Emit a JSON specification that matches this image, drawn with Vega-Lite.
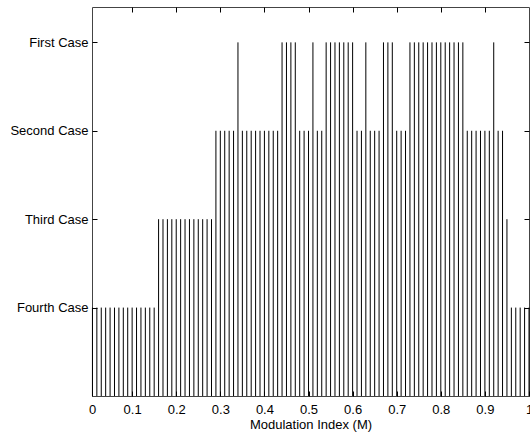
{
  "$schema": "https://vega.github.io/schema/vega-lite/v6.json",
  "width": 437,
  "height": 389,
  "autosize": "none",
  "padding": {"left": 92, "top": 7, "right": 1, "bottom": 40},
  "config": {
    "view": {"stroke": "#444", "strokeWidth": 1},
    "font": "Liberation Sans",
    "axis": {"grid": false, "domain": false, "tickColor": "#000", "labelColor": "#000", "titleColor": "#000", "labelFont": "Liberation Sans", "titleFont": "Liberation Sans", "labelFontSize": 13, "titleFontSize": 13, "titleFontWeight": "normal"}
  },
  "data": {"values": [
    {"m": 0.01, "level": 1}, {"m": 0.02, "level": 1}, {"m": 0.03, "level": 1}, {"m": 0.04, "level": 1}, {"m": 0.05, "level": 1},
    {"m": 0.06, "level": 1}, {"m": 0.07, "level": 1}, {"m": 0.08, "level": 1}, {"m": 0.09, "level": 1}, {"m": 0.10, "level": 1},
    {"m": 0.11, "level": 1}, {"m": 0.12, "level": 1}, {"m": 0.13, "level": 1}, {"m": 0.14, "level": 1}, {"m": 0.15, "level": 1},
    {"m": 0.16, "level": 2}, {"m": 0.17, "level": 2}, {"m": 0.18, "level": 2}, {"m": 0.19, "level": 2}, {"m": 0.20, "level": 2},
    {"m": 0.21, "level": 2}, {"m": 0.22, "level": 2}, {"m": 0.23, "level": 2}, {"m": 0.24, "level": 2}, {"m": 0.25, "level": 2},
    {"m": 0.26, "level": 2}, {"m": 0.27, "level": 2}, {"m": 0.28, "level": 2}, {"m": 0.29, "level": 3}, {"m": 0.30, "level": 3},
    {"m": 0.31, "level": 3}, {"m": 0.32, "level": 3}, {"m": 0.33, "level": 3}, {"m": 0.34, "level": 4}, {"m": 0.35, "level": 3},
    {"m": 0.36, "level": 3}, {"m": 0.37, "level": 3}, {"m": 0.38, "level": 3}, {"m": 0.39, "level": 3}, {"m": 0.40, "level": 3},
    {"m": 0.41, "level": 3}, {"m": 0.42, "level": 3}, {"m": 0.43, "level": 3}, {"m": 0.44, "level": 4}, {"m": 0.45, "level": 4},
    {"m": 0.46, "level": 4}, {"m": 0.47, "level": 4}, {"m": 0.48, "level": 3}, {"m": 0.49, "level": 3}, {"m": 0.50, "level": 3},
    {"m": 0.51, "level": 4}, {"m": 0.52, "level": 3}, {"m": 0.53, "level": 3}, {"m": 0.54, "level": 4}, {"m": 0.55, "level": 4},
    {"m": 0.56, "level": 4}, {"m": 0.57, "level": 4}, {"m": 0.58, "level": 4}, {"m": 0.59, "level": 4}, {"m": 0.60, "level": 4},
    {"m": 0.61, "level": 3}, {"m": 0.62, "level": 3}, {"m": 0.63, "level": 4}, {"m": 0.64, "level": 3}, {"m": 0.65, "level": 3},
    {"m": 0.66, "level": 3}, {"m": 0.67, "level": 4}, {"m": 0.68, "level": 4}, {"m": 0.69, "level": 4}, {"m": 0.70, "level": 3},
    {"m": 0.71, "level": 3}, {"m": 0.72, "level": 3}, {"m": 0.73, "level": 4}, {"m": 0.74, "level": 4}, {"m": 0.75, "level": 4},
    {"m": 0.76, "level": 4}, {"m": 0.77, "level": 4}, {"m": 0.78, "level": 4}, {"m": 0.79, "level": 4}, {"m": 0.80, "level": 4},
    {"m": 0.81, "level": 4}, {"m": 0.82, "level": 4}, {"m": 0.83, "level": 4}, {"m": 0.84, "level": 4}, {"m": 0.85, "level": 4},
    {"m": 0.86, "level": 3}, {"m": 0.87, "level": 3}, {"m": 0.88, "level": 3}, {"m": 0.89, "level": 3}, {"m": 0.90, "level": 3},
    {"m": 0.91, "level": 3}, {"m": 0.92, "level": 4}, {"m": 0.93, "level": 3}, {"m": 0.94, "level": 3}, {"m": 0.95, "level": 2},
    {"m": 0.96, "level": 1}, {"m": 0.97, "level": 1}, {"m": 0.98, "level": 1}, {"m": 0.99, "level": 1}, {"m": 1.00, "level": 1}
  ]},
  "layer": [
    {
      "mark": {"type": "rule", "color": "#000", "strokeWidth": 1},
      "encoding": {
        "x": {"field": "m", "type": "quantitative",
          "scale": {"domain": [0.009, 1.0], "nice": false, "zero": false},
          "axis": {"orient": "bottom", "values": [0.009, 0.1, 0.2, 0.3, 0.4, 0.5, 0.6, 0.7, 0.8, 0.9, 1.0],
            "labelExpr": "datum.value < 0.05 ? '0' : format(datum.value, '~g')",
            "tickSize": -5, "labelPadding": 12, "title": "Modulation Index (M)", "titlePadding": 2, "labelFlush": false}},
        "y": {"field": "level", "type": "quantitative",
          "scale": {"domain": [0, 4.4], "nice": false},
          "axis": {"orient": "left", "values": [1, 2, 3, 4],
            "labelExpr": "datum.value == 4 ? 'First Case' : datum.value == 3 ? 'Second Case' : datum.value == 2 ? 'Third Case' : 'Fourth Case'",
            "tickSize": -5, "labelPadding": 9, "title": null}},
        "y2": {"datum": 0}
      }
    },
    {
      "mark": {"type": "point", "opacity": 0},
      "encoding": {
        "x": {"field": "m", "type": "quantitative",
          "axis": {"orient": "top", "values": [0.1, 0.2, 0.3, 0.4, 0.5, 0.6, 0.7, 0.8, 0.9], "labels": false, "tickSize": -5, "title": null}},
        "y": {"field": "level", "type": "quantitative",
          "axis": {"orient": "right", "values": [1, 2, 3, 4], "labels": false, "tickSize": -5, "title": null}}
      }
    }
  ],
  "resolve": {"axis": {"x": "independent", "y": "independent"}}
}
